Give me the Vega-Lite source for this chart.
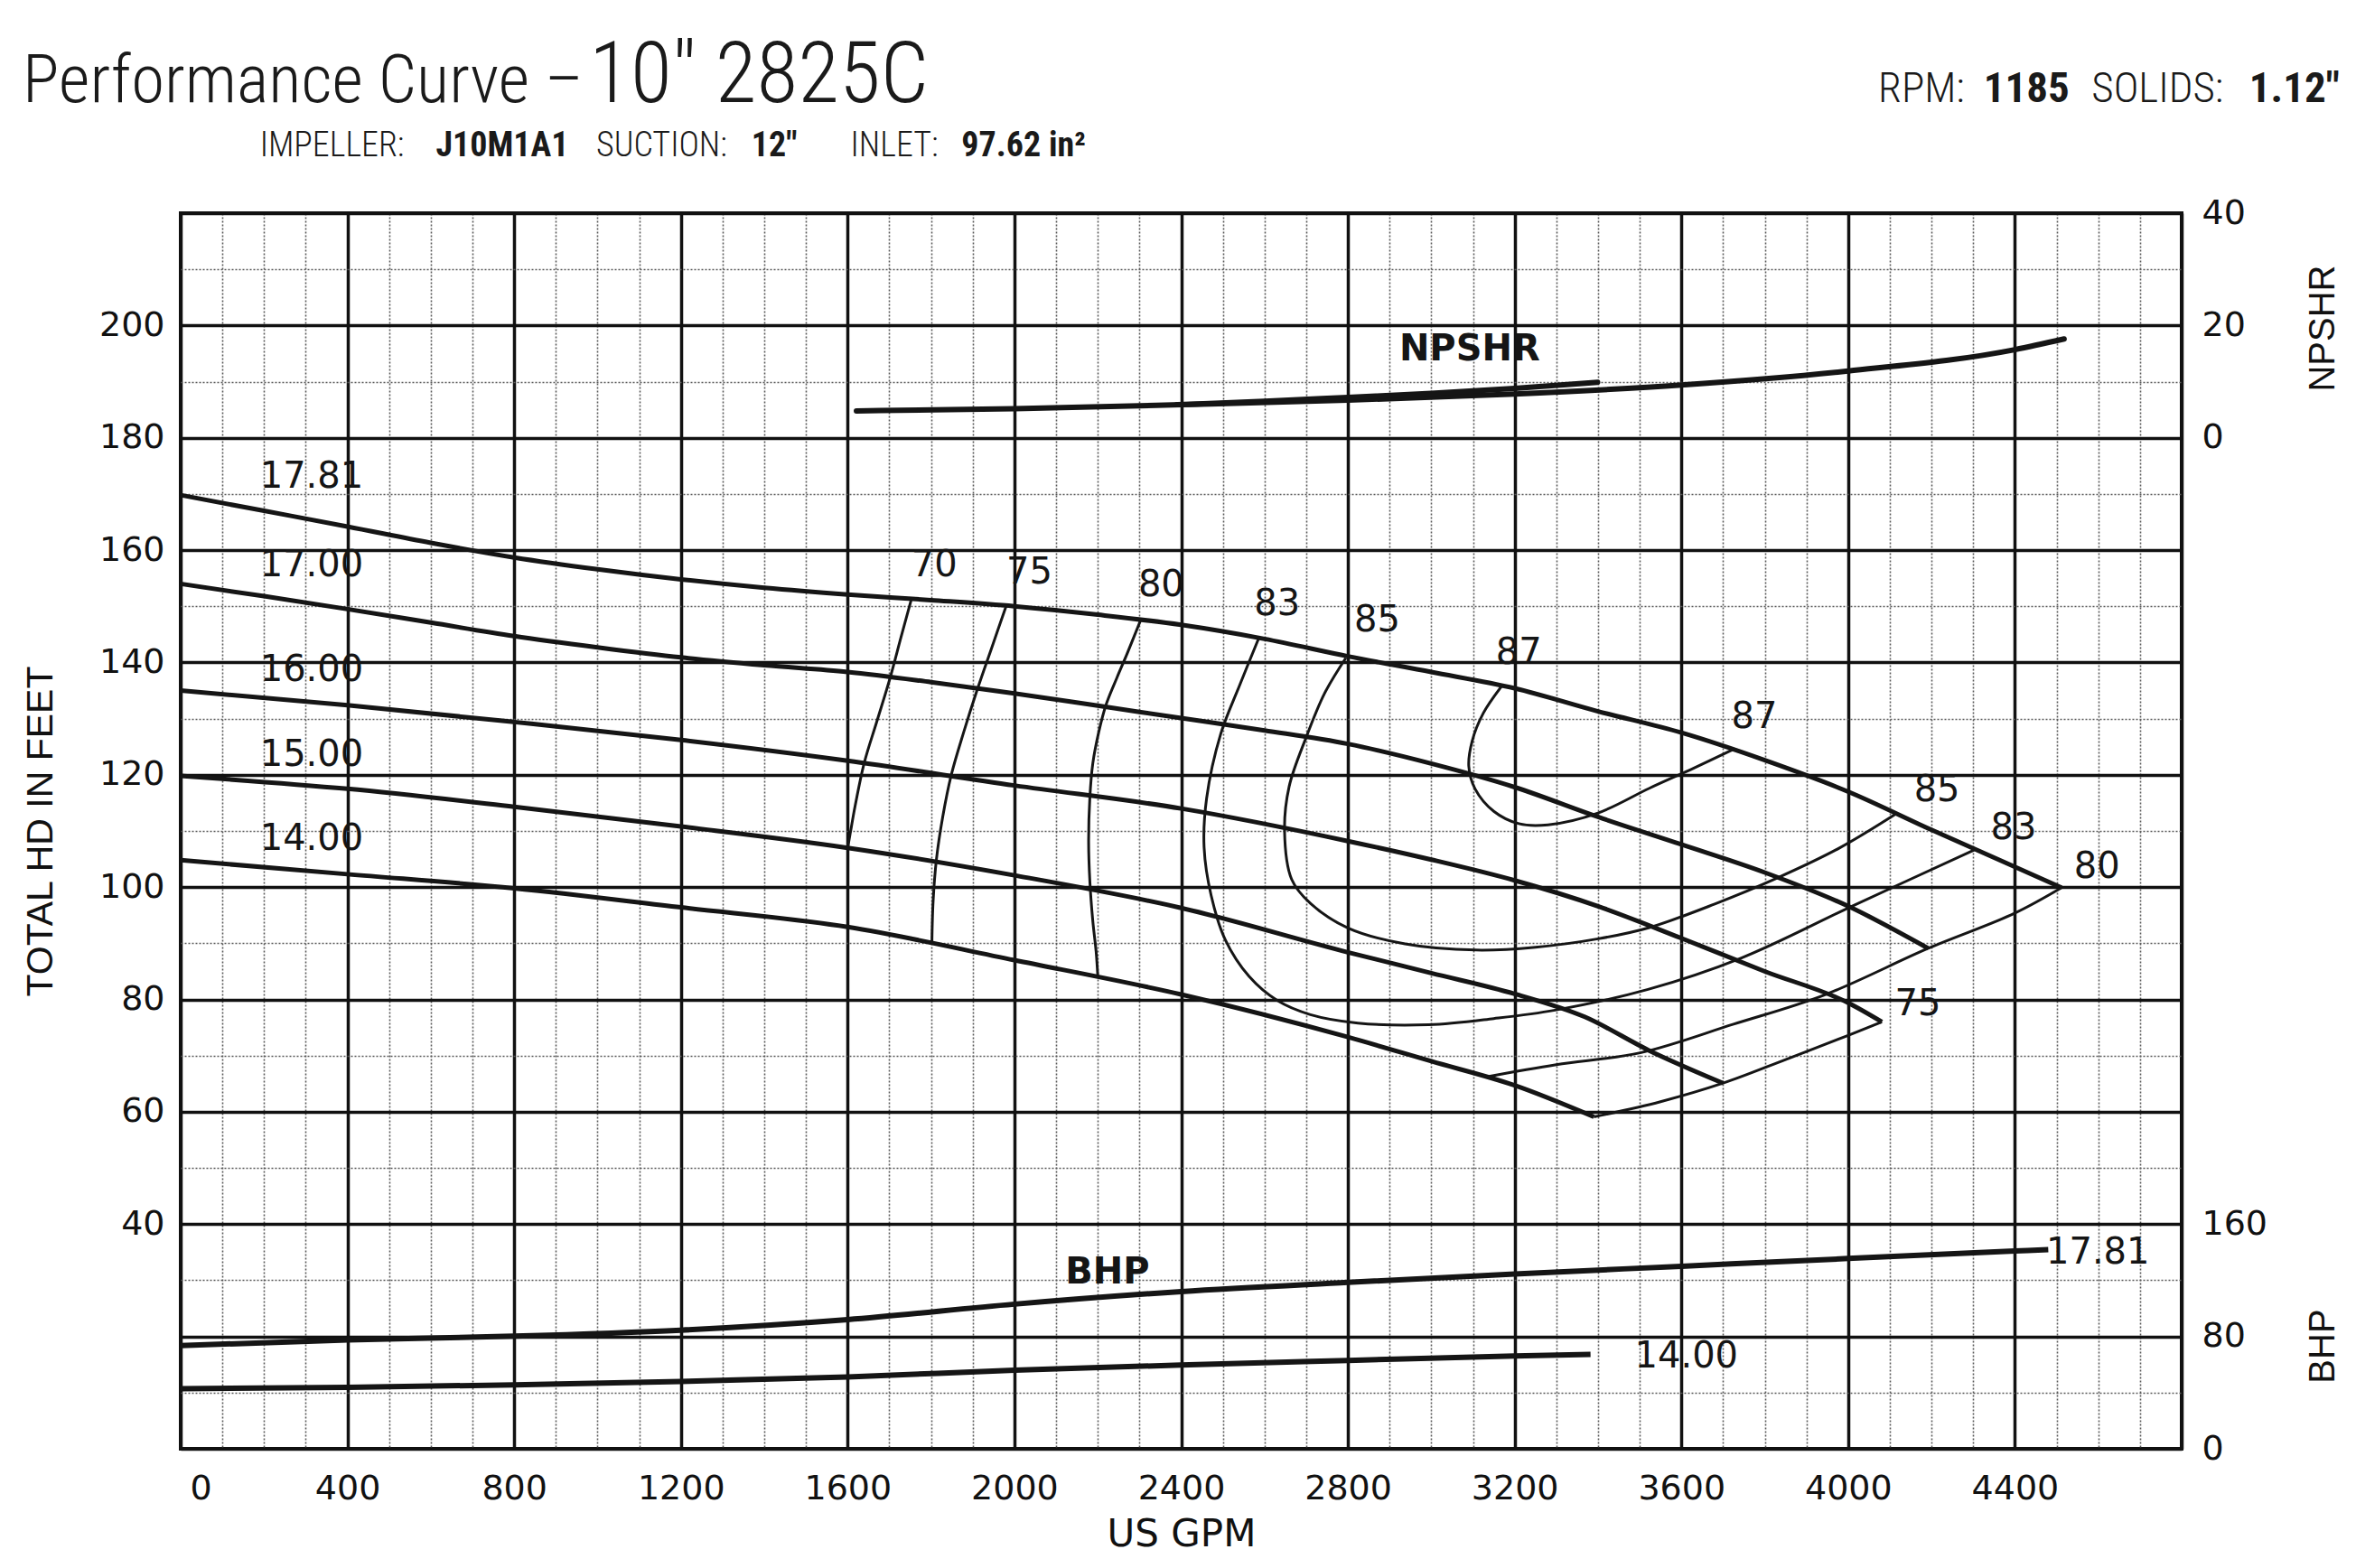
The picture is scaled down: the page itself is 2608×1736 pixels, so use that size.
{
"$schema": "https://vega.github.io/schema/vega-lite/v6.json",
"autosize": {"type": "none"},
"width": 2215, "height": 1368,
"padding": {"left": 200, "top": 236, "right": 193, "bottom": 132},
"background": "white",
"config": {"view": {"stroke": "#111", "strokeWidth": 4}, "font": "DejaVu Sans"},
"datasets": {
"head": [
{"curve":"17.81","gpm":0,"head":169.8},{"curve":"17.81","gpm":200,"head":167.0},{"curve":"17.81","gpm":400,"head":164.2},{"curve":"17.81","gpm":600,"head":161.3},{"curve":"17.81","gpm":800,"head":158.7},{"curve":"17.81","gpm":1000,"head":156.6},{"curve":"17.81","gpm":1200,"head":154.8},{"curve":"17.81","gpm":1400,"head":153.3},{"curve":"17.81","gpm":1600,"head":152.1},{"curve":"17.81","gpm":1800,"head":151.1},{"curve":"17.81","gpm":2000,"head":150.0},{"curve":"17.81","gpm":2200,"head":148.5},{"curve":"17.81","gpm":2400,"head":146.7},{"curve":"17.81","gpm":2600,"head":144.2},{"curve":"17.81","gpm":2800,"head":141.1},{"curve":"17.81","gpm":3000,"head":138.3},{"curve":"17.81","gpm":3200,"head":135.4},{"curve":"17.81","gpm":3400,"head":131.3},{"curve":"17.81","gpm":3600,"head":127.5},{"curve":"17.81","gpm":3800,"head":122.6},{"curve":"17.81","gpm":4000,"head":117.0},{"curve":"17.81","gpm":4200,"head":110.2},{"curve":"17.81","gpm":4400,"head":103.6},{"curve":"17.81","gpm":4512,"head":99.9},
{"curve":"17.00","gpm":0,"head":154.0},{"curve":"17.00","gpm":200,"head":151.8},{"curve":"17.00","gpm":400,"head":149.5},{"curve":"17.00","gpm":600,"head":147.1},{"curve":"17.00","gpm":800,"head":144.7},{"curve":"17.00","gpm":1000,"head":142.7},{"curve":"17.00","gpm":1200,"head":140.9},{"curve":"17.00","gpm":1400,"head":139.5},{"curve":"17.00","gpm":1600,"head":138.3},{"curve":"17.00","gpm":1800,"head":136.5},{"curve":"17.00","gpm":2000,"head":134.5},{"curve":"17.00","gpm":2200,"head":132.3},{"curve":"17.00","gpm":2400,"head":130.1},{"curve":"17.00","gpm":2600,"head":127.9},{"curve":"17.00","gpm":2800,"head":125.5},{"curve":"17.00","gpm":3000,"head":122.0},{"curve":"17.00","gpm":3200,"head":117.8},{"curve":"17.00","gpm":3400,"head":112.5},{"curve":"17.00","gpm":3600,"head":107.6},{"curve":"17.00","gpm":3800,"head":102.6},{"curve":"17.00","gpm":4000,"head":96.6},{"curve":"17.00","gpm":4192,"head":89.1},
{"curve":"16.00","gpm":0,"head":135.0},{"curve":"16.00","gpm":400,"head":132.4},{"curve":"16.00","gpm":800,"head":129.4},{"curve":"16.00","gpm":1200,"head":126.2},{"curve":"16.00","gpm":1600,"head":122.5},{"curve":"16.00","gpm":2000,"head":118.1},{"curve":"16.00","gpm":2400,"head":114.0},{"curve":"16.00","gpm":2800,"head":108.2},{"curve":"16.00","gpm":3000,"head":104.9},{"curve":"16.00","gpm":3200,"head":101.2},{"curve":"16.00","gpm":3400,"head":96.6},{"curve":"16.00","gpm":3600,"head":90.9},{"curve":"16.00","gpm":3800,"head":85.0},{"curve":"16.00","gpm":4000,"head":79.4},{"curve":"16.00","gpm":4081,"head":76.0},
{"curve":"15.00","gpm":0,"head":119.8},{"curve":"15.00","gpm":400,"head":117.5},{"curve":"15.00","gpm":800,"head":114.3},{"curve":"15.00","gpm":1200,"head":110.8},{"curve":"15.00","gpm":1600,"head":107.0},{"curve":"15.00","gpm":2000,"head":102.1},{"curve":"15.00","gpm":2400,"head":96.3},{"curve":"15.00","gpm":2800,"head":88.4},{"curve":"15.00","gpm":3000,"head":84.7},{"curve":"15.00","gpm":3200,"head":81.0},{"curve":"15.00","gpm":3368,"head":76.9},{"curve":"15.00","gpm":3523,"head":70.9},{"curve":"15.00","gpm":3700,"head":65.1},
{"curve":"14.00","gpm":0,"head":104.8},{"curve":"14.00","gpm":400,"head":102.3},{"curve":"14.00","gpm":800,"head":99.8},{"curve":"14.00","gpm":1200,"head":96.4},{"curve":"14.00","gpm":1600,"head":92.9},{"curve":"14.00","gpm":2000,"head":87.0},{"curve":"14.00","gpm":2400,"head":80.9},{"curve":"14.00","gpm":2800,"head":73.3},{"curve":"14.00","gpm":3000,"head":69.0},{"curve":"14.00","gpm":3200,"head":64.7},{"curve":"14.00","gpm":3390,"head":59.1}
],
"eff": [
{"id":"70","o":0,"gpm":1753,"head":151.3},{"id":"70","o":1,"gpm":1728,"head":144.5},{"id":"70","o":2,"gpm":1702,"head":137.3},{"id":"70","o":3,"gpm":1670,"head":129.5},{"id":"70","o":4,"gpm":1640,"head":122.2},{"id":"70","o":5,"gpm":1618,"head":114.5},{"id":"70","o":6,"gpm":1606,"head":109.5},{"id":"70","o":7,"gpm":1600,"head":107.0},
{"id":"75L","o":0,"gpm":1980,"head":150.0},{"id":"75L","o":1,"gpm":1945,"head":142.5},{"id":"75L","o":2,"gpm":1911,"head":135.2},{"id":"75L","o":3,"gpm":1878,"head":127.5},{"id":"75L","o":4,"gpm":1849,"head":120.1},{"id":"75L","o":5,"gpm":1828,"head":112.5},{"id":"75L","o":6,"gpm":1813,"head":105.0},{"id":"75L","o":7,"gpm":1805,"head":97.5},{"id":"75L","o":8,"gpm":1802,"head":89.9},
{"id":"80L","o":0,"gpm":2302,"head":147.4},{"id":"80L","o":1,"gpm":2270,"head":141.5},{"id":"80L","o":2,"gpm":2246,"head":137.3},{"id":"80L","o":3,"gpm":2220,"head":132.5},{"id":"80L","o":4,"gpm":2202,"head":127.5},{"id":"80L","o":5,"gpm":2188,"head":122.0},{"id":"80L","o":6,"gpm":2181,"head":116.0},{"id":"80L","o":7,"gpm":2178,"head":108.0},{"id":"80L","o":8,"gpm":2181,"head":101.0},{"id":"80L","o":9,"gpm":2188,"head":94.0},{"id":"80L","o":10,"gpm":2196,"head":88.5},{"id":"80L","o":11,"gpm":2200,"head":84.2},
{"id":"83","o":0,"gpm":2586,"head":144.3},{"id":"83","o":1,"gpm":2540,"head":135.9},{"id":"83","o":2,"gpm":2495,"head":127.3},{"id":"83","o":3,"gpm":2461,"head":115.8},{"id":"83","o":4,"gpm":2455,"head":107.1},{"id":"83","o":5,"gpm":2472,"head":98.5},{"id":"83","o":6,"gpm":2506,"head":90.6},{"id":"83","o":7,"gpm":2563,"head":84.1},{"id":"83","o":8,"gpm":2631,"head":79.8},{"id":"83","o":9,"gpm":2710,"head":77.3},{"id":"83","o":10,"gpm":2824,"head":75.8},{"id":"83","o":11,"gpm":2994,"head":75.5},{"id":"83","o":12,"gpm":3150,"head":76.6},{"id":"83","o":13,"gpm":3297,"head":78.1},{"id":"83","o":14,"gpm":3520,"head":81.8},{"id":"83","o":15,"gpm":3744,"head":87.4},{"id":"83","o":16,"gpm":4009,"head":96.6},{"id":"83","o":17,"gpm":4302,"head":106.6},
{"id":"85","o":0,"gpm":2795,"head":140.8},{"id":"85","o":1,"gpm":2744,"head":134.5},{"id":"85","o":2,"gpm":2699,"head":126.5},{"id":"85","o":3,"gpm":2659,"head":117.9},{"id":"85","o":4,"gpm":2648,"head":110.0},{"id":"85","o":5,"gpm":2665,"head":101.4},{"id":"85","o":6,"gpm":2710,"head":97.1},{"id":"85","o":7,"gpm":2801,"head":92.7},{"id":"85","o":8,"gpm":2937,"head":89.9},{"id":"85","o":9,"gpm":3107,"head":88.8},{"id":"85","o":10,"gpm":3250,"head":89.3},{"id":"85","o":11,"gpm":3400,"head":90.8},{"id":"85","o":12,"gpm":3523,"head":92.8},{"id":"85","o":13,"gpm":3680,"head":97.0},{"id":"85","o":14,"gpm":3832,"head":101.7},{"id":"85","o":15,"gpm":3980,"head":107.0},{"id":"85","o":16,"gpm":4114,"head":113.0},
{"id":"87","o":0,"gpm":3169,"head":135.8},{"id":"87","o":1,"gpm":3125,"head":131.0},{"id":"87","o":2,"gpm":3098,"head":126.0},{"id":"87","o":3,"gpm":3090,"head":121.5},{"id":"87","o":4,"gpm":3105,"head":117.5},{"id":"87","o":5,"gpm":3150,"head":113.5},{"id":"87","o":6,"gpm":3210,"head":111.3},{"id":"87","o":7,"gpm":3280,"head":111.1},{"id":"87","o":8,"gpm":3400,"head":113.2},{"id":"87","o":9,"gpm":3523,"head":117.6},{"id":"87","o":10,"gpm":3630,"head":121.2},{"id":"87","o":11,"gpm":3727,"head":124.6},
{"id":"80R","o":0,"gpm":3130,"head":66.2},{"id":"80R","o":1,"gpm":3300,"head":68.4},{"id":"80R","o":2,"gpm":3501,"head":70.5},{"id":"80R","o":3,"gpm":3725,"head":75.6},{"id":"80R","o":4,"gpm":3943,"head":80.8},{"id":"80R","o":5,"gpm":4192,"head":89.1},{"id":"80R","o":6,"gpm":4398,"head":95.3},{"id":"80R","o":7,"gpm":4512,"head":99.9},
{"id":"75R","o":0,"gpm":3390,"head":59.1},{"id":"75R","o":1,"gpm":3550,"head":61.8},{"id":"75R","o":2,"gpm":3700,"head":65.1},{"id":"75R","o":3,"gpm":3850,"head":69.3},{"id":"75R","o":4,"gpm":4000,"head":73.6},{"id":"75R","o":5,"gpm":4081,"head":76.0}
],
"curveLabels": [
{"t":"17.81","gpm":190,"head":173.0},{"t":"17.00","gpm":190,"head":157.3},{"t":"16.00","gpm":190,"head":138.7},{"t":"15.00","gpm":190,"head":123.5},{"t":"14.00","gpm":190,"head":108.5}
],
"effLabels": [
{"t":"70","gpm":1808,"head":157.3},{"t":"75","gpm":2036,"head":156.0},{"t":"80","gpm":2352,"head":153.8},{"t":"83","gpm":2630,"head":150.3},{"t":"85","gpm":2870,"head":147.4},{"t":"87","gpm":3210,"head":141.7},{"t":"87","gpm":3775,"head":130.2},{"t":"85","gpm":4213,"head":117.2},{"t":"83","gpm":4397,"head":110.5},{"t":"80","gpm":4597,"head":103.5},{"t":"75","gpm":4167,"head":79.2}
],
"npshr": [
{"b":"a","gpm":1621,"npshr":4.8},{"b":"a","gpm":2000,"npshr":5.2},{"b":"a","gpm":2400,"npshr":5.9},{"b":"a","gpm":2800,"npshr":6.7},{"b":"a","gpm":3200,"npshr":7.8},{"b":"a","gpm":3600,"npshr":9.4},{"b":"a","gpm":4000,"npshr":11.9},{"b":"a","gpm":4400,"npshr":15.7},{"b":"a","gpm":4518,"npshr":17.6},
{"b":"b","gpm":2390,"npshr":5.9},{"b":"b","gpm":2600,"npshr":6.5},{"b":"b","gpm":2800,"npshr":7.2},{"b":"b","gpm":3000,"npshr":7.9},{"b":"b","gpm":3200,"npshr":8.8},{"b":"b","gpm":3399,"npshr":9.9}
],
"npshrLabel": [{"t":"NPSHR","gpm":3092,"npshr":15.7}],
"bhp": [
{"curve":"17.81","gpm":0,"bhp":73.5},{"curve":"17.81","gpm":400,"bhp":77.5},{"curve":"17.81","gpm":800,"bhp":80.2},{"curve":"17.81","gpm":1200,"bhp":84.5},{"curve":"17.81","gpm":1600,"bhp":92.0},{"curve":"17.81","gpm":2000,"bhp":103.0},{"curve":"17.81","gpm":2400,"bhp":112.0},{"curve":"17.81","gpm":2800,"bhp":118.5},{"curve":"17.81","gpm":3200,"bhp":124.5},{"curve":"17.81","gpm":3600,"bhp":130.0},{"curve":"17.81","gpm":4000,"bhp":135.5},{"curve":"17.81","gpm":4400,"bhp":140.8},{"curve":"17.81","gpm":4480,"bhp":141.8},
{"curve":"14.00","gpm":0,"bhp":42.7},{"curve":"14.00","gpm":400,"bhp":43.8},{"curve":"14.00","gpm":800,"bhp":45.5},{"curve":"14.00","gpm":1200,"bhp":48.0},{"curve":"14.00","gpm":1600,"bhp":51.2},{"curve":"14.00","gpm":2000,"bhp":55.9},{"curve":"14.00","gpm":2400,"bhp":59.7},{"curve":"14.00","gpm":2800,"bhp":62.9},{"curve":"14.00","gpm":3200,"bhp":66.1},{"curve":"14.00","gpm":3382,"bhp":67.3}
],
"bhpLabels": [{"t":"17.81","gpm":4599,"bhp":139.5},{"t":"14.00","gpm":3612,"bhp":65.8}],
"bhpTitle": [{"t":"BHP","gpm":2223,"bhp":125.6}],
"hdrBig1": [{"t":"Performance Curve –","gpm":-379,"head":239.8}],
"hdrBig2": [{"t":"10\" 2825C","gpm":980,"head":239.8}],
"hdrSm": [{"t":"IMPELLER:","gpm":190,"head":230.1},{"t":"SUCTION:","gpm":997,"head":230.1},{"t":"INLET:","gpm":1607,"head":230.1}],
"hdrSmB": [{"t":"J10M1A1","gpm":612,"head":230.1},{"t":"12\"","gpm":1369,"head":230.1},{"t":"97.62 in²","gpm":1873,"head":230.1}],
"hdrRt": [{"t":"RPM:","gpm":4072,"head":239.8},{"t":"SOLIDS:","gpm":4584,"head":239.8}],
"hdrRtB": [{"t":"1185","gpm":4325,"head":239.8},{"t":"1.12\"","gpm":4962,"head":239.8}]
},
"resolve": {"scale": {"y": "independent"}, "axis": {"y": "independent"}},
"layer": [
{
"layer": [
{
"data": {"name": "head"},
"mark": {"type": "line", "stroke": "#151515", "strokeWidth": 5, "interpolate": "monotone"},
"encoding": {
"x": {"field": "gpm", "type": "quantitative", "scale": {"domain": [0, 4800], "nice": false, "zero": false},
"axis": {"values": [0,100,200,300,400,500,600,700,800,900,1000,1100,1200,1300,1400,1500,1600,1700,1800,1900,2000,2100,2200,2300,2400,2500,2600,2700,2800,2900,3000,3100,3200,3300,3400,3500,3600,3700,3800,3900,4000,4100,4200,4300,4400,4500,4600,4700,4800],
"format": "d",
"labelExpr": "datum.value % 400 === 0 && datum.value <= 4400 ? datum.label : ''",
"grid": true,
"gridColor": {"condition": {"test": "datum.value % 400 === 0", "value": "#111111"}, "value": "#5a5a5a"},
"gridWidth": {"condition": {"test": "datum.value % 400 === 0", "value": 3.5}, "value": 1.6},
"gridDash": {"condition": {"test": "datum.value % 400 === 0", "value": []}, "value": [2, 2]},
"gridOpacity": 1,
"ticks": false, "domain": false,
"labelFont": "DejaVu Sans", "labelFontSize": 38, "labelColor": "#111", "labelPadding": 25, "labelOverlap": false, "labelFlushOffset": -10,
"title": "US GPM", "titleFont": "DejaVu Sans", "titleFontSize": 42, "titleFontWeight": "normal", "titleColor": "#111",
"titleY": 107, "titleBaseline": "alphabetic"}},
"y": {"field": "head", "type": "quantitative", "scale": {"domain": [0, 220], "nice": false, "zero": false},
"axis": {"values": [0,5,10,15,20,25,30,35,40,45,50,55,60,65,70,75,80,85,90,95,100,105,110,115,120,125,130,135,140,145,150,155,160,165,170,175,180,185,190,195,200,205,210,215,220],
"labelExpr": "datum.value % 20 === 0 && datum.value >= 40 && datum.value <= 200 ? datum.label : ''",
"grid": true,
"gridColor": {"condition": {"test": "datum.value % 20 === 0", "value": "#111111"}, "value": "#5a5a5a"},
"gridWidth": {"condition": {"test": "datum.value % 20 === 0", "value": 3.5}, "value": 1.6},
"gridDash": {"condition": {"test": "datum.value % 20 === 0", "value": []}, "value": [2, 2]},
"gridOpacity": 1,
"ticks": false, "domain": false,
"labelFont": "DejaVu Sans", "labelFontSize": 38, "labelColor": "#111", "labelPadding": 18, "labelOverlap": false,
"title": "TOTAL HD IN FEET", "titleFont": "Liberation Sans Narrow, Liberation Sans", "titleFontSize": 41, "titleFontWeight": "normal", "titleColor": "#111",
"titleAngle": 270, "titleX": -155, "titleY": 684, "titleAlign": "center", "titleBaseline": "middle"}},
"detail": {"field": "curve", "type": "nominal"}
}
},
{
"data": {"name": "eff"},
"mark": {"type": "line", "stroke": "#151515", "strokeWidth": 3, "interpolate": "catmull-rom"},
"encoding": {
"x": {"field": "gpm", "type": "quantitative"},
"y": {"field": "head", "type": "quantitative"},
"detail": {"field": "id", "type": "nominal"},
"order": {"field": "o", "type": "quantitative"}
}
},
{
"data": {"name": "curveLabels"},
"mark": {"type": "text", "align": "left", "baseline": "middle", "font": "DejaVu Sans", "fontSize": 40, "fill": "#151515"},
"encoding": {"x": {"field": "gpm", "type": "quantitative"}, "y": {"field": "head", "type": "quantitative"}, "text": {"field": "t"}}
},
{
"data": {"name": "effLabels"},
"mark": {"type": "text", "align": "center", "baseline": "middle", "font": "DejaVu Sans", "fontSize": 40, "fill": "#151515"},
"encoding": {"x": {"field": "gpm", "type": "quantitative"}, "y": {"field": "head", "type": "quantitative"}, "text": {"field": "t"}}
},
{
"data": {"name": "hdrBig1"},
"mark": {"type": "text", "align": "left", "baseline": "alphabetic", "font": "Roboto Condensed, Liberation Sans Narrow, sans-serif", "fontWeight": 300, "fontSize": 75, "fill": "#1a1a1a"},
"encoding": {"x": {"field": "gpm", "type": "quantitative"}, "y": {"field": "head", "type": "quantitative"}, "text": {"field": "t"}}
},
{
"data": {"name": "hdrBig2"},
"mark": {"type": "text", "align": "left", "baseline": "alphabetic", "font": "Roboto Condensed, Liberation Sans Narrow, sans-serif", "fontWeight": 300, "fontSize": 94, "fill": "#1a1a1a"},
"encoding": {"x": {"field": "gpm", "type": "quantitative"}, "y": {"field": "head", "type": "quantitative"}, "text": {"field": "t"}}
},
{
"data": {"name": "hdrSm"},
"mark": {"type": "text", "align": "left", "baseline": "alphabetic", "font": "Roboto Condensed, Liberation Sans Narrow, sans-serif", "fontWeight": 300, "fontSize": 38, "fill": "#1a1a1a"},
"encoding": {"x": {"field": "gpm", "type": "quantitative"}, "y": {"field": "head", "type": "quantitative"}, "text": {"field": "t"}}
},
{
"data": {"name": "hdrSmB"},
"mark": {"type": "text", "align": "left", "baseline": "alphabetic", "font": "Roboto Condensed, Liberation Sans Narrow, sans-serif", "fontWeight": "bold", "fontSize": 38, "fill": "#1a1a1a"},
"encoding": {"x": {"field": "gpm", "type": "quantitative"}, "y": {"field": "head", "type": "quantitative"}, "text": {"field": "t"}}
},
{
"data": {"name": "hdrRt"},
"mark": {"type": "text", "align": "left", "baseline": "alphabetic", "font": "Roboto Condensed, Liberation Sans Narrow, sans-serif", "fontWeight": 300, "fontSize": 47, "fill": "#1a1a1a"},
"encoding": {"x": {"field": "gpm", "type": "quantitative"}, "y": {"field": "head", "type": "quantitative"}, "text": {"field": "t"}}
},
{
"data": {"name": "hdrRtB"},
"mark": {"type": "text", "align": "left", "baseline": "alphabetic", "font": "Roboto Condensed, Liberation Sans Narrow, sans-serif", "fontWeight": "bold", "fontSize": 47, "fill": "#1a1a1a"},
"encoding": {"x": {"field": "gpm", "type": "quantitative"}, "y": {"field": "head", "type": "quantitative"}, "text": {"field": "t"}}
}
]
},
{
"layer": [
{
"data": {"name": "npshr"},
"mark": {"type": "line", "stroke": "#151515", "strokeWidth": 6, "interpolate": "monotone", "strokeCap": "round"},
"encoding": {
"x": {"field": "gpm", "type": "quantitative"},
"y": {"field": "npshr", "type": "quantitative", "scale": {"domain": [-180, 40], "nice": false, "zero": false},
"axis": {"orient": "right", "values": [0, 20, 40], "grid": false, "ticks": false, "domain": false,
"labelFont": "DejaVu Sans", "labelFontSize": 38, "labelColor": "#111", "labelPadding": 22, "labelOverlap": false, "labelAlign": "left",
"title": "NPSHR", "titleFont": "Liberation Sans", "titleFontSize": 40, "titleFontWeight": "normal", "titleColor": "#111",
"titleAngle": 270, "titleX": 156, "titleY": 127, "titleAlign": "center", "titleBaseline": "middle"}},
"detail": {"field": "b", "type": "nominal"}
}
},
{
"data": {"name": "npshrLabel"},
"mark": {"type": "text", "align": "center", "baseline": "middle", "font": "DejaVu Sans", "fontWeight": "bold", "fontSize": 40, "fill": "#151515"},
"encoding": {"x": {"field": "gpm", "type": "quantitative"}, "y": {"field": "npshr", "type": "quantitative"}, "text": {"field": "t"}}
}
]
},
{
"layer": [
{
"data": {"name": "bhp"},
"mark": {"type": "line", "stroke": "#151515", "strokeWidth": 6, "interpolate": "monotone", "strokeCap": "butt"},
"encoding": {
"x": {"field": "gpm", "type": "quantitative"},
"y": {"field": "bhp", "type": "quantitative", "scale": {"domain": [0, 880], "nice": false, "zero": false},
"axis": {"orient": "right", "values": [0, 80, 160], "grid": false, "ticks": false, "domain": false,
"labelFont": "DejaVu Sans", "labelFontSize": 38, "labelColor": "#111", "labelPadding": 22, "labelOverlap": false, "labelAlign": "left",
"title": "BHP", "titleFont": "Liberation Sans", "titleFontSize": 40, "titleFontWeight": "normal", "titleColor": "#111",
"titleAngle": 270, "titleX": 156, "titleY": 1254, "titleAlign": "center", "titleBaseline": "middle"}},
"detail": {"field": "curve", "type": "nominal"}
}
},
{
"data": {"name": "bhpLabels"},
"mark": {"type": "text", "align": "center", "baseline": "middle", "font": "DejaVu Sans", "fontSize": 40, "fill": "#151515"},
"encoding": {"x": {"field": "gpm", "type": "quantitative"}, "y": {"field": "bhp", "type": "quantitative"}, "text": {"field": "t"}}
},
{
"data": {"name": "bhpTitle"},
"mark": {"type": "text", "align": "center", "baseline": "middle", "font": "DejaVu Sans", "fontWeight": "bold", "fontSize": 40, "fill": "#151515"},
"encoding": {"x": {"field": "gpm", "type": "quantitative"}, "y": {"field": "bhp", "type": "quantitative"}, "text": {"field": "t"}}
}
]
}
]
}
